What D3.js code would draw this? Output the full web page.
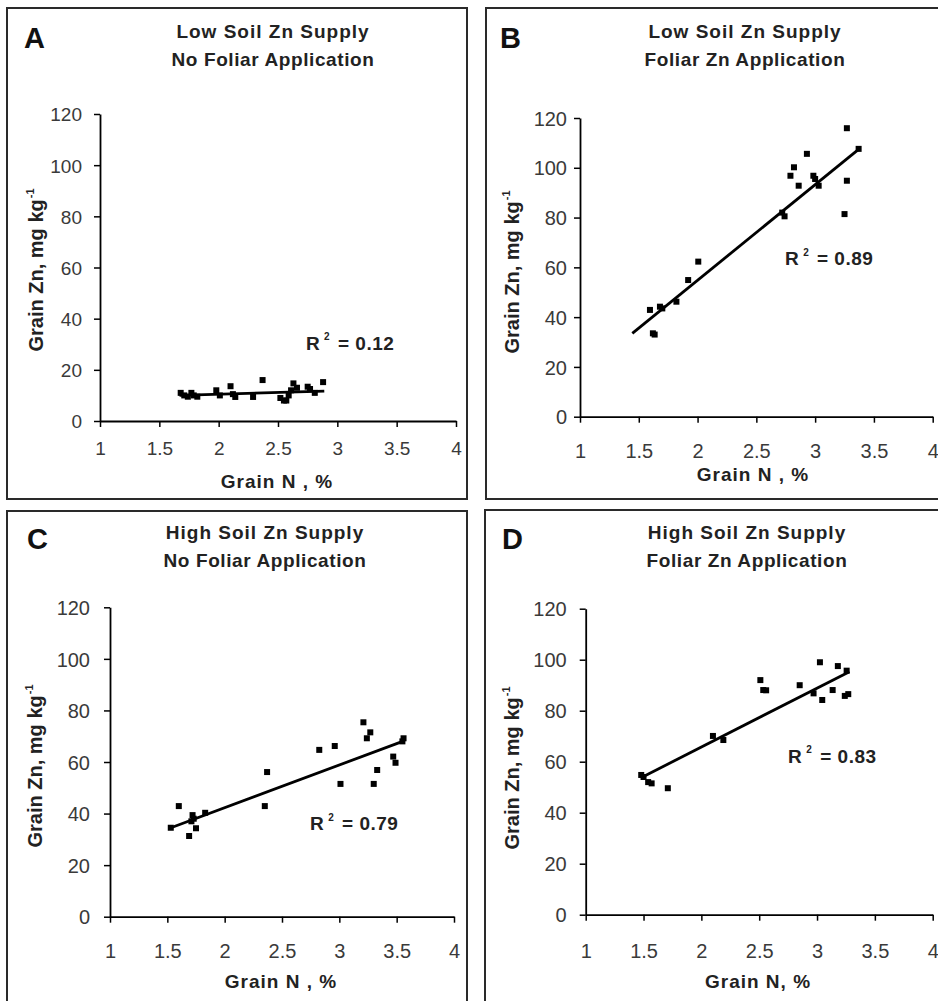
<!DOCTYPE html>
<html>
<head>
<meta charset="utf-8">
<script src="https://cdn.jsdelivr.net/npm/d3@7"></script>
<style>
  html, body { margin: 0; padding: 0; background: #fff; }
  svg { display: block; font-family: Arial, "Liberation Sans", sans-serif; }
</style>
</head>
<body>
<svg id="chart" width="938" height="1001"></svg>
<script>
// ---------------- DATA ----------------
const panelLetters = ["A", "B", "C", "D"];
const titleLine1 = ["Low Soil Zn Supply", "Low Soil Zn Supply", "High Soil Zn Supply", "High Soil Zn Supply"];
const titleLine2 = ["No Foliar Application", "Foliar Zn Application", "No Foliar Application", "Foliar Zn Application"];
const xTitles = ["Grain N , %", "Grain N , %", "Grain N , %", "Grain N, %"];
const r2Values = ["0.12", "0.89", "0.79", "0.83"];
const xTicks = [1, 1.5, 2, 2.5, 3, 3.5, 4];
const yTicks = [0, 20, 40, 60, 80, 100, 120];

// Panel A: Low soil Zn, no foliar
const nA = [1.68, 1.71, 1.74, 1.77, 1.79, 1.82, 1.98, 2.01, 2.10, 2.12, 2.14, 2.29, 2.37, 2.52, 2.55, 2.57, 2.59, 2.61, 2.63, 2.66, 2.75, 2.77, 2.81, 2.88];
const znA = [11, 10, 9.5, 11, 10, 9.5, 12, 10, 13.6, 10.5, 9.4, 9.4, 16, 9, 8, 8, 10, 12, 14.7, 13, 13.4, 12.5, 11, 15.2];
const fitA = [[1.67, 10.0], [2.89, 11.7]];

// Panel B: Low soil Zn, foliar Zn
const nB = [1.595, 1.62, 1.635, 1.68, 1.70, 1.82, 1.92, 2.006, 2.72, 2.74, 2.79, 2.82, 2.86, 2.93, 2.985, 3.00, 3.03, 3.25, 3.27, 3.27, 3.37];
const znB = [42.9, 33.5, 33, 44.2, 43.5, 46.2, 54.9, 62.3, 82, 80.5, 96.8, 100.2, 92.8, 105.6, 96.8, 95.5, 92.8, 81.4, 94.8, 115.9, 107.6];
const fitB = [[1.445, 33.5], [3.38, 107.8]];

// Panel C: High soil Zn, no foliar
const nC = [1.53, 1.60, 1.69, 1.71, 1.72, 1.73, 1.75, 1.83, 2.35, 2.37, 2.825, 2.96, 3.01, 3.21, 3.24, 3.27, 3.30, 3.33, 3.47, 3.49, 3.55, 3.56];
const znC = [34.5, 42.9, 31.3, 37, 39.4, 38, 34.3, 40.3, 42.9, 56.1, 64.7, 66.2, 51.5, 75.4, 69.2, 71.5, 51.5, 56.9, 62.1, 59.7, 68, 69.2];
const fitC = [[1.52, 34.3], [3.57, 68.3]];

// Panel D: High soil Zn, foliar Zn
const nD = [1.48, 1.50, 1.54, 1.57, 1.71, 2.10, 2.19, 2.51, 2.535, 2.56, 2.85, 2.97, 3.025, 3.045, 3.135, 3.18, 3.24, 3.256, 3.27];
const znD = [54.8, 54, 52, 51.5, 49.6, 70.1, 68.5, 92, 88.1, 88, 90, 86.8, 99, 84.2, 88.1, 97.5, 85.8, 95.7, 86.5];
const fitD = [[1.50, 54.2], [3.28, 95.3]];

const seriesN = [nA, nB, nC, nD];
const seriesZn = [znA, znB, znC, znD];
const fits = [fitA, fitB, fitC, fitD];

// ---------------- LAYOUT ----------------
const layout = [
  { box: [7, 8, 467, 499], px: [100, 456], py: [421, 114], title: 273, tTop: 8,
    letterX: 24, xTitle: [277, 488], yTitle: [36, 270], xLabOff: 34, yLabGap: 18, r2: [2.735, 27.8], tickFont: 19 },
  { box: [486, 8, 940, 499], px: [580, 932.7], py: [416.7, 118], title: 745, tTop: 8,
    letterX: 500, xTitle: [753, 481], yTitle: [512, 272], xLabOff: 41, yLabGap: 13, r2: [2.743, 60.9], tickFont: 20 },
  { box: [7, 511, 467, 1003], px: [110, 454], py: [916.7, 607.3], title: 265, tTop: 509,
    letterX: 27, xTitle: [281, 988], yTitle: [35, 766], xLabOff: 41, yLabGap: 20, r2: [2.744, 33.6], tickFont: 20 },
  { box: [485, 510, 940, 1003], px: [585.7, 932.7], py: [914.7, 608.7], title: 747, tTop: 509,
    letterX: 502, xTitle: [758, 988], yTitle: [512, 768], xLabOff: 43, yLabGap: 19, r2: [2.75, 59.5], tickFont: 20 }
];

const svg = d3.select("#chart");
svg.append("rect").attr("width", 938).attr("height", 1001).attr("fill", "#fff");

layout.forEach((L, i) => {
  const g = svg.append("g");
  // panel frame
  g.append("rect")
    .attr("x", L.box[0]).attr("y", L.box[1])
    .attr("width", L.box[2] - L.box[0]).attr("height", L.box[3] - L.box[1])
    .attr("fill", "none").attr("stroke", "#2a2a2a").attr("stroke-width", 2);

  const x = d3.scaleLinear().domain([1, 4]).range(L.px);
  const y = d3.scaleLinear().domain([0, 120]).range(L.py);

  // panel letter
  g.append("text").attr("x", L.letterX).attr("y", L.tTop + 40)
    .attr("font-size", 29).attr("font-weight", "bold").attr("fill", "#111")
    .text(panelLetters[i]);

  // titles
  g.append("text").attr("x", L.title).attr("y", L.tTop + 30)
    .attr("text-anchor", "middle").attr("font-size", 19).attr("font-weight", "bold")
    .attr("fill", "#222").attr("letter-spacing", 1.0).text(titleLine1[i]);
  g.append("text").attr("x", L.title).attr("y", L.tTop + 58)
    .attr("text-anchor", "middle").attr("font-size", 19).attr("font-weight", "bold")
    .attr("fill", "#222").attr("letter-spacing", 0.6).text(titleLine2[i]);

  // axes
  const xAxis = d3.axisBottom(x).tickValues(xTicks).tickFormat(d3.format("")).tickSize(6).tickSizeOuter(0);
  const yAxis = d3.axisLeft(y).tickValues(yTicks).tickFormat(d3.format("d")).tickSize(6).tickSizeOuter(0);

  const gx = g.append("g").attr("transform", `translate(0,${L.py[0]})`).call(xAxis);
  gx.select(".domain").attr("stroke", "#000").attr("stroke-width", 1.8);
  gx.selectAll(".tick line").attr("stroke", "#000").attr("stroke-width", 1.5);
  gx.selectAll(".tick text").attr("y", L.xLabOff).attr("dy", 0)
    .attr("font-size", L.tickFont).attr("fill", "#3a3a3a").attr("font-family", "Arial, 'Liberation Sans', sans-serif");

  const gy = g.append("g").attr("transform", `translate(${L.px[0]},0)`).call(yAxis);
  gy.select(".domain").attr("stroke", "#000").attr("stroke-width", 1.8);
  gy.selectAll(".tick line").attr("stroke", "#000").attr("stroke-width", 1.5);
  gy.selectAll(".tick text").attr("x", -L.yLabGap).attr("dy", "0.36em")
    .attr("font-size", L.tickFont).attr("fill", "#3a3a3a").attr("font-family", "Arial, 'Liberation Sans', sans-serif");

  // axis titles
  g.append("text").attr("x", L.xTitle[0]).attr("y", L.xTitle[1])
    .attr("text-anchor", "middle").attr("font-size", 19).attr("font-weight", "bold")
    .attr("fill", "#222").attr("letter-spacing", 1.0).text(xTitles[i]);

  const yt = g.append("text")
    .attr("transform", `translate(${L.yTitle[0]},${L.yTitle[1]}) rotate(-90)`)
    .attr("text-anchor", "middle").attr("dy", "0.35em")
    .attr("font-size", 20).attr("font-weight", "bold").attr("fill", "#222");
  yt.append("tspan").text("Grain Zn, mg kg");
  yt.append("tspan").attr("font-size", 11).attr("dx", 1).attr("dy", "-0.8em").text("-1");

  // trend line
  const line = d3.line().x(d => x(d[0])).y(d => y(d[1]));
  g.append("path").datum(fits[i]).attr("d", line)
    .attr("fill", "none").attr("stroke", "#000").attr("stroke-width", 2.8);

  // points
  const pts = seriesN[i].map((n, k) => [n, seriesZn[i][k]]);
  g.selectAll("rect.pt").data(pts).enter().append("rect")
    .attr("class", "pt")
    .attr("x", d => x(d[0]) - 3).attr("y", d => y(d[1]) - 3)
    .attr("width", 6).attr("height", 6).attr("fill", "#000");

  // R² label
  const rt = g.append("text").attr("x", x(L.r2[0])).attr("y", y(L.r2[1]))
    .attr("font-size", 19).attr("font-weight", "bold").attr("fill", "#222").attr("letter-spacing", 0.5);
  rt.append("tspan").text("R");
  rt.append("tspan").attr("font-size", 10).attr("dx", 4).attr("dy", "-0.95em").text("2");
  rt.append("tspan").attr("dy", "0.5em").attr("dx", 2).text("\u00a0= " + r2Values[i]);
});
</script>
</body>
</html>
